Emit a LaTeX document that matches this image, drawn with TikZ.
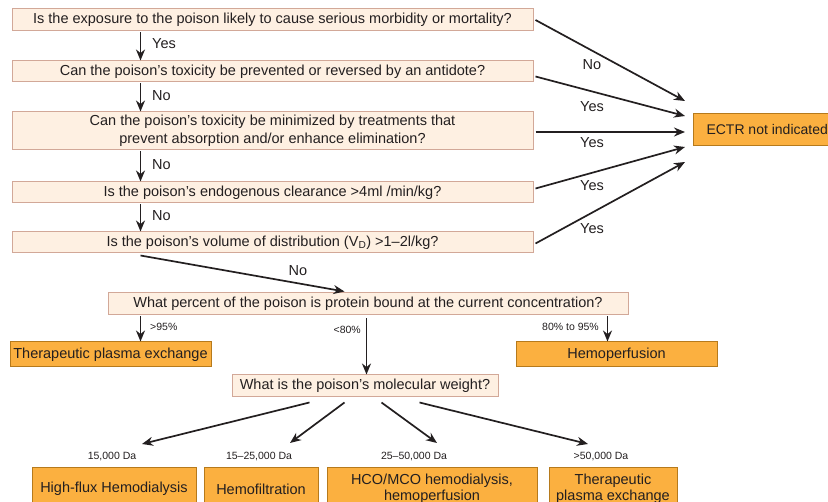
\documentclass[tikz,border=0pt]{standalone}
\usepackage{fontspec}
\setmainfont{Liberation Sans}
\usetikzlibrary{arrows.meta,calc}
\definecolor{qfill}{HTML}{FEF0E2}
\definecolor{qdraw}{HTML}{D2A898}
\definecolor{ofill}{HTML}{FBB040}
\definecolor{odraw}{HTML}{B67A1C}
\definecolor{ink}{HTML}{231F20}
\tikzset{
  qbox/.style={draw=qdraw, fill=qfill, line width=1pt, minimum height=21pt, inner sep=0pt, text=ink, font=\fontsize{14.5}{18}\selectfont, align=center},
  obox/.style={draw=odraw, fill=ofill, line width=1pt, inner sep=0pt, text=ink, font=\fontsize{14.5}{15.5}\selectfont, align=center},
  arr/.style={draw=ink, line width=1.7pt, -{Stealth[length=11pt,width=9pt]}},
  lab/.style={text=ink, font=\fontsize{14.5}{16}\selectfont, inner sep=0pt},
  slab/.style={text=ink, font=\fontsize{10.5}{12}\selectfont, inner sep=0pt}
}
\begin{document}
\begin{tikzpicture}[x=1pt,y=-1pt]
\clip (0,0) rectangle (828,502);
\fill[white] (0,0) rectangle (828,502);
% question boxes
\node[qbox, minimum width=521pt, minimum height=22pt] (b1) at (272.5,20) {Is the exposure to the poison likely to cause serious morbidity or mortality?};
\node[qbox, minimum width=521pt] (b2) at (272.5,71.5) {Can the poison’s toxicity be prevented or reversed by an antidote?};
\node[qbox, minimum width=521pt, minimum height=38pt] (b3) at (272.5,131) {Can the poison’s toxicity be minimized by treatments that\\prevent absorption and/or enhance elimination?};
\node[qbox, minimum width=521pt] (b4) at (272.5,192.5) {Is the poison’s endogenous clearance >4ml /min/kg?};
\node[qbox, minimum width=521pt] (b5) at (272.5,242.5) {Is the poison’s volume of distribution (V\textsubscript{D}) >1–2l/kg?};
\node[obox, anchor=west, minimum height=32pt, inner xsep=13pt, font=\fontsize{14}{15}\selectfont] (ectr) at (693,130) {ECTR not indicated};
% vertical arrows
\draw[arr] ($(b1.south west)+(129,1)$) coordinate (s1) -- (s1 |- b2.north);
\node[lab, anchor=west] (y1) at (152,44) {Yes};
\draw[arr] ($(b2.south west)+(129,1)$) coordinate (s2) -- (s2 |- b3.north);
\node[lab, anchor=west] (n2) at (152,96) {No};
\draw[arr] ($(b3.south west)+(129,1)$) coordinate (s3) -- (s3 |- b4.north);
\node[lab, anchor=west] (n3) at (152,165) {No};
\draw[arr] ($(b4.south west)+(129,1)$) coordinate (s4) -- (s4 |- b5.north);
\node[lab, anchor=west] (n4) at (152,216) {No};
% arrows to ECTR
\draw[arr] ($(b1.east)+(2,0)$) -- ($(ectr.west)+(-8,-29)$);
\draw[arr] ($(b2.east)+(2,5)$) -- ($(ectr.west)+(-8,-14)$);
\draw[arr] ($(b3.east)+(2,1)$) -- ($(ectr.west)+(-8,2)$);
\draw[arr] ($(b4.east)+(2,-4)$) -- ($(ectr.west)+(-8,17)$);
\draw[arr] ($(b5.east)+(2,1)$) -- ($(ectr.west)+(-8,32)$);
\node[lab] (l1) at (592,65) {No};
\node[lab] (l2) at (592,107) {Yes};
\node[lab] (l3) at (592,143) {Yes};
\node[lab] (l4) at (592,186) {Yes};
\node[lab] (l5) at (592,229) {Yes};
% protein bound
\node[qbox, minimum width=520pt, minimum height=22pt] (b6) at (368,304) {What percent of the poison is protein bound at the current concentration?};
\draw[arr] ($(b5.south west)+(129,2)$) -- ($(b6.north west)+(237,-1)$);
\node[lab] (n5) at (298,271) {No};
\node[obox, minimum width=201pt, minimum height=25pt] (tpe1) at (110.5,354.5) {Therapeutic plasma exchange};
\node[obox, minimum width=201pt, minimum height=25pt] (hp) at (616.5,354.5) {Hemoperfusion};
\node[qbox, minimum width=266pt, minimum height=22pt] (b7) at (365,386) {What is the poison’s molecular weight?};
\draw[arr] ($(b6.south west)+(33,1)$) coordinate (p1) -- (p1 |- tpe1.north);
\node[slab, anchor=west] (p95) at (150,327) {>95\%};
\draw[arr] ($(b6.south west)+(259,3)$) coordinate (p2) -- (p2 |- b7.north);
\node[slab, anchor=east] (p80) at (361,330) {<80\%};
\draw[arr] ($(b6.south west)+(500,1)$) coordinate (p3) -- (p3 |- hp.north);
\node[slab, anchor=east] (p8095) at (599,327) {80\% to 95\%};
% molecular weight outcomes
\node[obox, minimum width=164pt, minimum height=42pt] (hf) at (114,489) {High-flux Hemodialysis};
\node[obox, minimum width=114pt, minimum height=42pt] (hfil) at (261,489) {Hemofiltration};
\node[obox, minimum width=210pt, minimum height=42pt] (hco) at (432,489) {HCO/MCO hemodialysis,\\hemoperfusion};
\node[obox, minimum width=128pt, minimum height=42pt] (tpe2) at (613,489) {Therapeutic\\plasma exchange};
\node[slab] (d1) at (112,457) {15,000 Da};
\node[slab] (d2) at (259,457) {15–25,000 Da};
\node[slab] (d3) at (414,457) {25–50,000 Da};
\node[slab] (d4) at (601,457) {>50,000 Da};
\coordinate (e1) at (142,444);
\coordinate (e2) at (290,443);
\coordinate (e3) at (437,443);
\coordinate (e4) at (588,444);
\draw[arr] ($(b7.south west)+(78,5)$) -- (e1);
\draw[arr] ($(b7.south west)+(113,5)$) -- (e2);
\draw[arr] ($(b7.south west)+(150,5)$) -- (e3);
\draw[arr] ($(b7.south west)+(188,5)$) -- (e4);
\end{tikzpicture}
\end{document}
